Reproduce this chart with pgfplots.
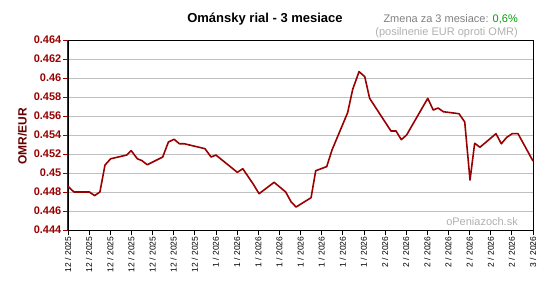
\documentclass[border=0pt]{standalone}
\usepackage{fontspec}
\setmainfont{Liberation Sans}
\usepackage{pgfplots}
\pgfplotsset{compat=1.18}
\definecolor{lin}{HTML}{990000}
\definecolor{ylab}{HTML}{990000}
\definecolor{ytit}{HTML}{660000}
\definecolor{gridc}{HTML}{C0C0C0}
\definecolor{grn}{HTML}{00A000}
\definecolor{txtg}{HTML}{808080}
\definecolor{txtl}{HTML}{B0B0B0}
\pgfplotstableread{
x y
0.00 0.4486
0.28 0.4480
1.01 0.4480
1.26 0.44762
1.51 0.4480
1.75 0.45084
2.02 0.4515
2.78 0.45189
2.99 0.45235
3.28 0.4515
3.50 0.4513
3.75 0.45087
4.48 0.45168
4.75 0.45326
5.02 0.45355
5.27 0.45308
5.50 0.45308
6.48 0.45256
6.77 0.45168
7.00 0.45189
8.01 0.45007
8.27 0.45045
8.77 0.44881
9.04 0.44782
9.75 0.44902
10.30 0.4480
10.55 0.44698
10.79 0.44642
11.50 0.44740
11.72 0.45024
12.24 0.45067
12.49 0.45242
13.23 0.45635
13.47 0.45881
13.77 0.46067
14.04 0.46014
14.27 0.45786
15.28 0.45442
15.52 0.45442
15.77 0.45351
16.02 0.45400
17.02 0.45786
17.28 0.45663
17.51 0.45684
17.76 0.45645
18.50 0.45624
18.77 0.45537
19.02 0.44926
19.24 0.45313
19.49 0.45271
20.25 0.45414
20.50 0.45308
20.76 0.45376
21.02 0.45414
21.29 0.45414
22.00 0.45126
}\data
\begin{document}
\begin{tikzpicture}
\useasboundingbox (-68pt,-54pt) rectangle (491pt,230pt);
\begin{axis}[
  scale only axis, width=465pt, height=190pt,
  at={(0,0)}, anchor=south west,
  xmin=0, xmax=22, ymin=0.444, ymax=0.464,
  xtick={0,...,22},
  xticklabels={12 / 2025,12 / 2025,12 / 2025,12 / 2025,12 / 2025,12 / 2025,12 / 2025,
    1 / 2026,1 / 2026,1 / 2026,1 / 2026,1 / 2026,1 / 2026,1 / 2026,1 / 2026,
    2 / 2026,2 / 2026,2 / 2026,2 / 2026,2 / 2026,2 / 2026,2 / 2026,3 / 2026},
  ytick={0.444,0.446,0.448,0.450,0.452,0.454,0.456,0.458,0.460,0.462,0.464},
  yticklabels={0.444,0.446,0.448,0.45,0.452,0.454,0.456,0.458,0.46,0.462,0.464},
  xtick pos=left, ytick pos=left,
  tick align=outside, major tick length=5pt,
  x tick style={black, line width=0.8pt},
  y tick style={ylab, line width=0.8pt},
  x tick label style={rotate=90, anchor=east, font=\fontsize{8.5}{10}\selectfont, inner sep=1.5pt},
  y tick label style={font=\bfseries\fontsize{11}{12}\selectfont, text=ylab, inner sep=1.5pt},
  ymajorgrids, grid style={gridc, line width=0.8pt},
  axis line style={black, line width=0.9pt},
  clip=false,
]
\addplot[lin, line width=1.6pt, line join=round] table[x=x,y=y]{\data};
\draw[ylab, line width=1pt] (rel axis cs:0,0) -- (rel axis cs:0,1);
\end{axis}
\node[rotate=90, text=ytit, font=\bfseries\fontsize{12}{13}\selectfont] at (-45.5pt,93.5pt) {OMR/EUR};
\node[font=\bfseries\fontsize{13}{15}\selectfont] at (197pt,211pt) {Ománsky rial - 3 mesiace};
\node[anchor=east, text=txtg, font=\fontsize{11}{12}\selectfont, inner sep=0pt] at (450pt,211pt) {Zmena za 3 mesiace: \textcolor{grn}{0,6\%}};
\node[anchor=east, text=txtl, font=\fontsize{11}{12}\selectfont, inner sep=0pt] at (450pt,197pt) {(posilnenie EUR oproti OMR)};
\node[anchor=east, text=txtl, font=\fontsize{11}{12}\selectfont, inner sep=0pt] at (450pt,8pt) {oPeniazoch.sk};
\end{tikzpicture}
\end{document}
